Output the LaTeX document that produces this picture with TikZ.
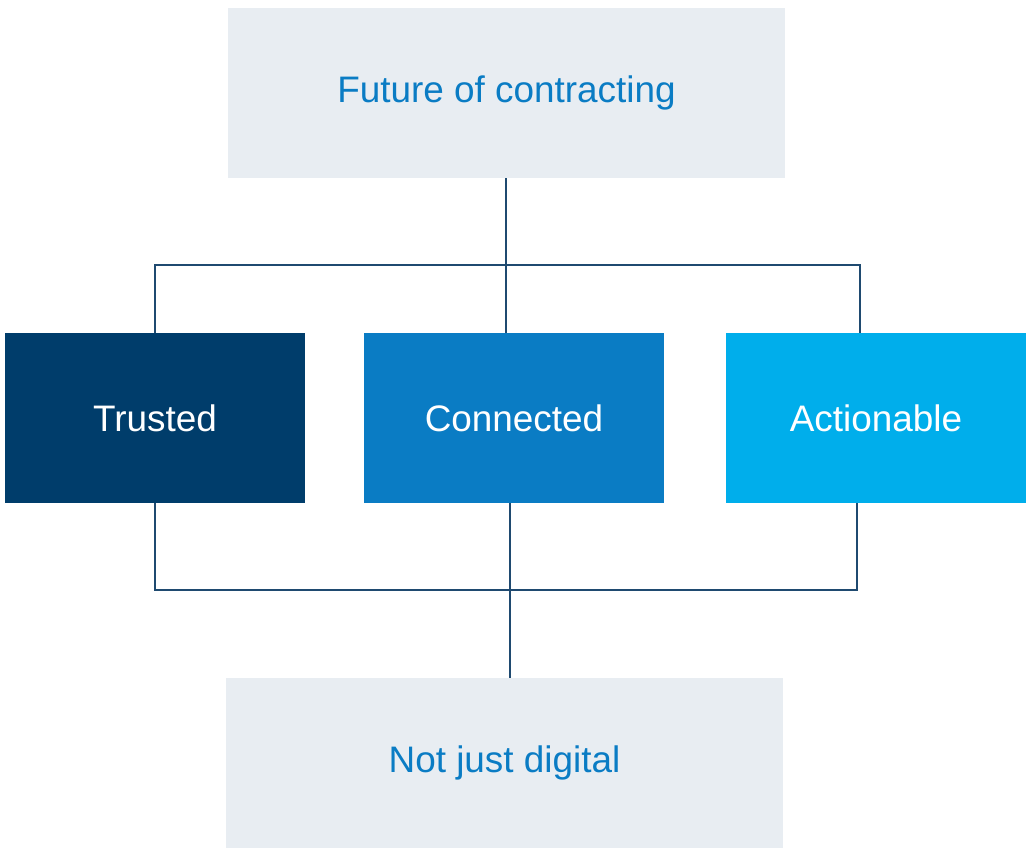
\documentclass[tikz,border=0pt]{standalone}
\usepackage{fontspec}
\setmainfont{Liberation Sans}
\definecolor{paleBg}{HTML}{E8EDF2}
\definecolor{midBlue}{HTML}{0A7CC4}
\definecolor{navyBlue}{HTML}{003D6B}
\definecolor{skyBlue}{HTML}{00AEEB}
\definecolor{lineNavy}{HTML}{1F4A70}
\begin{document}
\begin{tikzpicture}[x=0.02cm,y=-0.02cm,
    outer/.style={fill=paleBg,text=midBlue,minimum width=11.14cm,minimum height=3.4cm,font=\fontsize{21}{25}\selectfont},
    pillar/.style={text=white,minimum width=6cm,minimum height=3.4cm,font=\fontsize{21}{25}\selectfont},
    bus/.style={draw=lineNavy,line width=1.1pt}]
  \useasboundingbox (0,0) rectangle (1033,853);
  \node[outer] (top) at (506.5,93) {Future of contracting};
  \node[pillar,fill=navyBlue] (trusted) at (155,418) {Trusted};
  \node[pillar,fill=midBlue] (connected) at (514,418) {Connected};
  \node[pillar,fill=skyBlue] (action) at (876,418) {Actionable};
  \node[outer] (bottom) at (504.5,763) {Not just digital};
  % bus coordinates
  \coordinate (upL) at (155,265);
  \coordinate (upM) at (506,265);
  \coordinate (upR) at (860,265);
  \coordinate (loL) at (155,590);
  \coordinate (loM) at (510,590);
  \coordinate (loR) at (857,590);
  \draw[bus] (top.south -| upM) -- (upM);
  \draw[bus] (trusted.north -| upL) -- (upL) -- (upR) -- (action.north -| upR);
  \draw[bus] (upM) -- (connected.north -| upM);
  \draw[bus] (trusted.south -| loL) -- (loL) -- (loR) -- (action.south -| loR);
  \draw[bus] (connected.south -| loM) -- (bottom.north -| loM);
\end{tikzpicture}
\end{document}
